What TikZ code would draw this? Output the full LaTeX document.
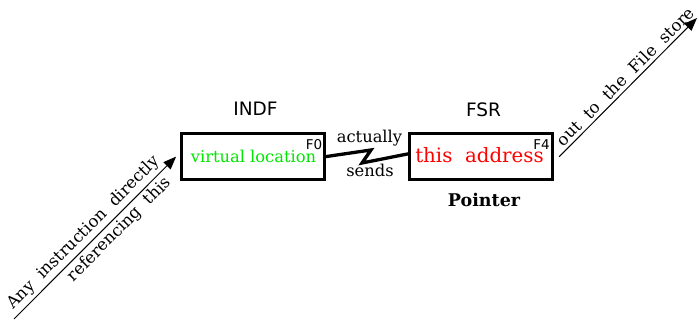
\documentclass[tikz,border=0pt]{standalone}
\usepackage{fontspec}
\setmainfont{DejaVu Serif}
\setsansfont{DejaVu Sans}
\usetikzlibrary{arrows.meta}

\tikzset{
  regbox/.style={draw, line width=2.7pt, minimum width=143pt, minimum height=46pt, inner sep=0pt},
  regname/.style={font=\sffamily\fontsize{18.5}{20}\selectfont, anchor=base},
  addr/.style={font=\sffamily\fontsize{13.5}{15}\selectfont, anchor=base east, inner sep=0pt},
  lbl/.style={font=\fontsize{16.3}{18}\selectfont, anchor=base, inner sep=0pt},
  slant/.style={font=\fontsize{16.5}{18}\selectfont, sloped, inner sep=3pt},
  zig/.style={line width=3.3pt, line join=miter},
  flow/.style={line width=1pt, -{Triangle[length=13pt,width=10pt]}}
}

\begin{document}
\begin{tikzpicture}[x=1pt, y=-1pt]
\useasboundingbox (0,0) rectangle (699,320);

% the two registers
\node[regbox] (indf) at (253,156.6) {};
\node[regbox] (fsr)  at (481.3,156.8) {};

\node[regname] (indfname) at (255.5,115.5) {INDF};
\node[regname] (fsrname)  at (483.5,116.5) {FSR};

\node[addr] (f0) at (322.5,150) {F0};
\node[addr] (f4) at (550,150) {F4};

\node[lbl, text={rgb,255:red,0;green,230;blue,0}] (virt) at (253.5,162.7) {virtual location};
\node[lbl, text=red, font=\fontsize{19.8}{22}\selectfont] (thisaddr) at (479.5,163) {this\ \ address};
\node[lbl, font=\bfseries\fontsize{17.5}{19}\selectfont] (pointer) at (484,207) {Pointer};

% jagged link between the registers
\coordinate (zA) at (371,150);
\coordinate (zB) at (362,163);
\draw[zig] (indf.east) -- (zA) -- (zB) -- ([yshift=3pt]fsr.west);
\node[lbl] (actually) at (369.5,142.3) {actually};
\node[lbl] (sends) at (370,176.7) {sends};

% incoming reference
\coordinate (inSrc) at (14,319);
\draw[flow] (inSrc) -- ([xshift=-4pt]indf.west)
  node[slant, pos=0.48, above] (anytext) {Any\ \ instruction\ \ directly}
  node[slant, pos=0.6, below] (reftext) {referencing\ \ this};

% outgoing path to the file store
\coordinate (outEnd) at (697,18);
\draw[flow] ([xshift=5pt]fsr.east) -- (outEnd)
  node[slant, pos=0.53, above] (outtext) {out\ \ to\ \ the\ \ File\ \ store};
\end{tikzpicture}
\end{document}
